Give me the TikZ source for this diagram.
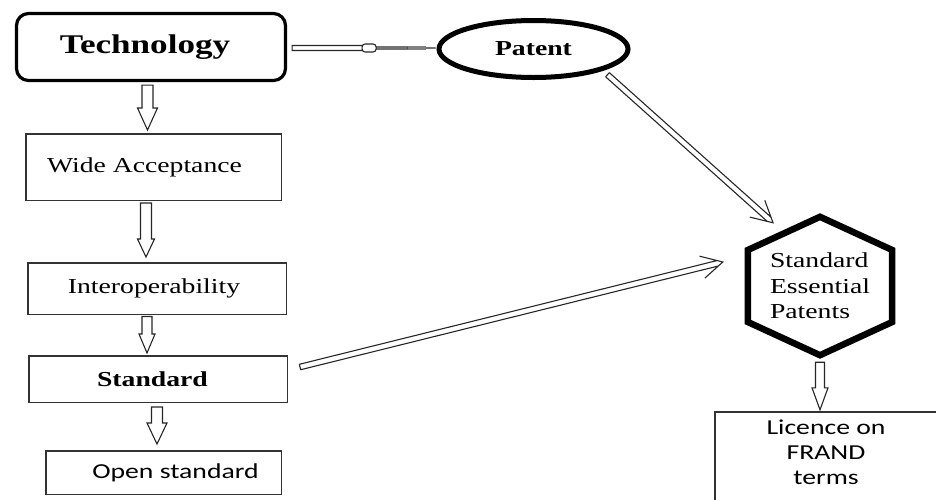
\documentclass[tikz,border=0pt]{standalone}
\usepackage{fontspec}
\setmainfont{Liberation Serif}[FakeStretch=1.3]
\newfontfamily\calib{Carlito}[FakeStretch=1.3]
\usetikzlibrary{calc,shapes.geometric}
\tikzset{
  ln/.style={draw=black!80, line width=1.5pt},
  thinln/.style={draw=black!85, line width=1.1pt, line join=miter},
  boxn/.style={ln, rectangle, inner sep=0pt, align=center},
  serif/.style={font=\fontsize{21.3}{25.5}\selectfont},
  serifbf/.style={font=\bfseries\fontsize{21.3}{25.5}\selectfont},
  sans/.style={font=\calib\fontsize{21.3}{25}\selectfont},
  blockdown/.style n args={3}{to path={let \p1=(\tikztostart), \p2=(\tikztotarget) in
    (\x1-#1,\y1) -- (\x1-#1,\y2+#3) -- (\x1-#2,\y2+#3) -- (\x1,\y2) -- (\x1+#2,\y2+#3) -- (\x1+#1,\y2+#3) -- (\x1+#1,\y1) -- cycle}},
  implies/.style={to path={let \p1=(\tikztostart), \p2=(\tikztotarget), \n1={atan2(\y2-\y1,\x2-\x1)} in
    ($(\p1)+(\n1+90:2.8pt)$) -- ($(\p2)+(\n1+90:2.8pt)+(\n1:-5.3pt)$)
    ($(\p1)+(\n1-90:2.8pt)$) -- ($(\p2)+(\n1-90:2.8pt)+(\n1:-5.3pt)$)
    ($(\p1)+(\n1+90:2.8pt)$) -- ($(\p1)+(\n1-90:2.8pt)$)
    ($(\p2)+(\n1+152:24pt)$) -- (\p2) -- ($(\p2)+(\n1-152:24pt)$)}}
}
\begin{document}
\begin{tikzpicture}[x=1pt,y=-1pt]
\useasboundingbox (0,0) rectangle (936,499);
\clip (0,0) rectangle (936,499);

% nodes
\node[boxn, draw=black, rounded corners=12pt, line width=3.2pt, minimum width=269pt, minimum height=67pt,
      font=\bfseries\fontsize{27}{30}\selectfont] (Tech) at (151,47) {Technology\hspace*{12pt}};
\node[ellipse, draw=black, line width=5pt, minimum width=189pt, minimum height=57pt, inner sep=0pt, serifbf]
      (Patent) at (533.5,49) {Patent};
\node[boxn, minimum width=255.5pt, minimum height=66.5pt, serif] (Wide) at (153.5,167) {Wide Acceptance\hspace*{18pt}};
\node[boxn, minimum width=258.5pt, minimum height=51.5pt, serif] (Inter) at (157,288.5) {Interoperability\hspace*{6pt}};
\node[boxn, minimum width=258.5pt, minimum height=46.5pt, serifbf] (Std) at (158,379) {Standard\hspace*{11pt}};
\node[boxn, minimum width=235.5pt, minimum height=43.5pt, sans] (Open) at (163.5,472.5) {\hspace*{24pt}Open standard};

\node[minimum width=144pt, minimum height=138pt, inner sep=0pt, align=left, serif] (SEP) at (820,286)
      {Standard\\Essential\\Patents};
\draw[draw=black, line width=6.5pt, line join=miter]
  (SEP.north) -- ($(SEP.east)+(0,-36)$) -- ($(SEP.east)+(0,36)$) -- (SEP.south)
  -- ($(SEP.west)+(0,36)$) -- ($(SEP.west)+(0,-36)$) -- cycle;

\node[minimum width=222pt, minimum height=80pt, inner sep=0pt, align=center, sans] (Lic) at (826,452)
      {Licence on\\FRAND\\terms};
\draw[ln] ([yshift=-20pt]Lic.south west) -- (Lic.north west) -- ([xshift=10pt]Lic.north east);

% vertical block arrows
\draw[thinln] ([xshift=-3.5pt,yshift=-3pt]Tech.south) to[blockdown={5.5pt}{10pt}{22pt}] ([yshift=3pt]Wide.north);
\draw[thinln] ([xshift=-7.5pt,yshift=-2pt]Wide.south) to[blockdown={5.5pt}{8.5pt}{18pt}] ([yshift=5pt]Inter.north);
\draw[thinln] ([xshift=-10pt,yshift=-1.5pt]Inter.south) to[blockdown={5pt}{8pt}{19pt}] ([yshift=2pt]Std.north);
\draw[thinln] ([xshift=-1pt,yshift=-4pt]Std.south) to[blockdown={5.5pt}{10pt}{21pt}] ([yshift=6pt]Open.north);
\draw[thinln] ([yshift=-7pt]SEP.south) to[blockdown={4.5pt}{8pt}{22pt}] ([yshift=2pt]Lic.north);

% Technology -> Patent connector
\draw[thinln] let \p1=(Tech.east), \p2=(Patent.west) in
  (\x1+5pt,\y1+1.5pt) rectangle (\x1+75pt,\y1-3.5pt)
  [rounded corners=3pt] (\x1+75pt,\y1+3pt) rectangle (\x1+89pt,\y1-5pt)
  [sharp corners] (\x1+89pt,\y1) rectangle (\x1+121pt,\y1-2pt)
  (\x1+139pt,\y1-1pt) -- (\x2-1pt,\y1-1pt);
\draw[draw=gray, line width=3.5pt] let \p1=(Tech.east) in (\x1+121pt,\y1-1pt) -- (\x1+139pt,\y1-1pt);

% double arrows to SEP
\draw[thinln] ([xshift=8pt,yshift=-3pt]Patent.-19) to[implies] ([xshift=-7pt,yshift=-6pt]SEP.120);
\draw[thinln] ([xshift=12pt,yshift=12pt]Std.east) to[implies] ([xshift=-25pt,yshift=24pt]SEP.west);
\end{tikzpicture}
\end{document}
